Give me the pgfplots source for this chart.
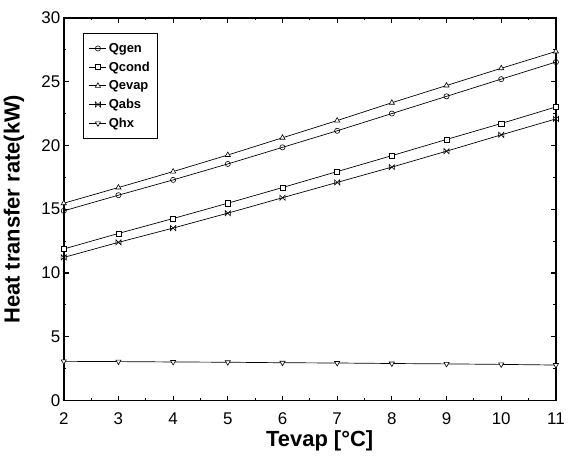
\documentclass[border=0pt]{standalone}
\usepackage{pgfplots}
\pgfplotsset{compat=1.18}
\usepackage{pgfplotstable}
\usepackage{fontspec}
\setmainfont{Liberation Sans}
\usetikzlibrary{plotmarks}

\pgfdeclareplotmark{bowtie}{%
  \pgfpathmoveto{\pgfqpoint{-\pgfplotmarksize}{-\pgfplotmarksize}}%
  \pgfpathlineto{\pgfqpoint{\pgfplotmarksize}{\pgfplotmarksize}}%
  \pgfpathlineto{\pgfqpoint{\pgfplotmarksize}{-\pgfplotmarksize}}%
  \pgfpathlineto{\pgfqpoint{-\pgfplotmarksize}{\pgfplotmarksize}}%
  \pgfpathclose
  \pgfusepathqstroke
}

\pgfplotstableread{
T   Qgen   Qcond  Qevap  Qabs   Qhx
2   14.87  11.88  15.47  11.22  3.07
3   16.10  13.10  16.70  12.40  3.05
4   17.30  14.27  17.95  13.52  3.02
5   18.55  15.47  19.25  14.69  3.00
6   19.85  16.70  20.60  15.90  2.96
7   21.15  17.95  21.95  17.10  2.94
8   22.50  19.20  23.35  18.30  2.90
9   23.85  20.47  24.70  19.55  2.87
10  25.20  21.72  26.05  20.83  2.83
11  26.54  23.02  27.37  22.08  2.78
}\datatable

\begin{document}
\begin{tikzpicture}
\begin{axis}[
  width=494pt, height=384pt, scale only axis,
  xmin=2, xmax=11, ymin=0, ymax=30,
  xtick={2,3,...,11}, ytick={0,5,...,30},
  minor x tick num=1, minor y tick num=1,
  tick align=inside,
  major tick length=5pt, minor tick length=2.5pt,
  axis line style={line width=1.5pt},
  every tick/.style={black, line width=1.1pt},
  /pgf/number format/assume math mode=true,
  ticklabel style={font=\fontsize{17}{17}\selectfont},
  x tick label style={yshift=-9pt},
  xlabel={Tevap [°C]},
  ylabel={Heat transfer rate(kW)},
  label style={font=\fontsize{22}{22}\selectfont\bfseries},
  xlabel style={at={(axis description cs:0.52,0)}, anchor=north, yshift=-27pt},
  ylabel style={at={(axis description cs:-0.1012,0.5)}, anchor=center},
  legend style={at={(rel axis cs:0.0385,0.961)}, anchor=north west,
    draw=black, line width=0.8pt, font=\fontsize{13}{13}\selectfont\bfseries,
    row sep=4pt, inner ysep=8pt, inner xsep=6pt},
  legend cell align=left,
  every axis plot/.append style={black, line width=0.7pt},
]
\addplot[mark=o, mark size=2.6pt, mark options={fill=white, solid, line width=0.6pt}] table[x=T, y=Qgen] {\datatable};
\addlegendentry{Qgen}
\addplot[mark=square*, mark size=2.6pt, mark options={fill=white, solid, line width=0.6pt}] table[x=T, y=Qcond] {\datatable};
\addlegendentry{Qcond}
\addplot[mark=triangle*, mark size=3pt, mark options={fill=white, solid, line width=0.6pt}] table[x=T, y=Qevap] {\datatable};
\addlegendentry{Qevap}
\addplot[mark=bowtie, mark size=2.6pt, mark options={solid, line width=0.6pt}] table[x=T, y=Qabs] {\datatable};
\addlegendentry{Qabs}
\addplot[mark=triangle*, mark size=3pt, mark options={fill=white, solid, line width=0.6pt, rotate=180}] table[x=T, y=Qhx] {\datatable};
\addlegendentry{Qhx}
\end{axis}
\path ([shift={(-64pt,-57pt)}]current axis.south west) rectangle ([shift={(10pt,18pt)}]current axis.north east);
\end{tikzpicture}
\end{document}
